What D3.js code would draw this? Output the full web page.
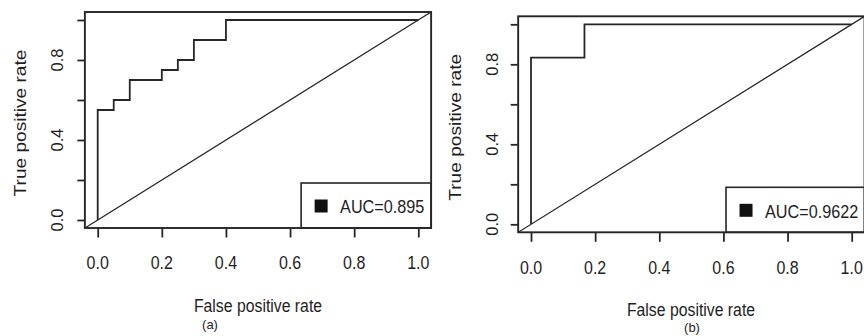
<!DOCTYPE html>
<html>
<head>
<meta charset="utf-8">
<script src="https://cdn.jsdelivr.net/npm/d3@7"></script>
<style>
  body { margin: 0; background: #fff; }
  svg { display: block; font-family: "Liberation Sans", Arial, sans-serif; }
  text { fill: #1e1e1e; }
</style>
</head>
<body>
<svg width="864" height="336"></svg>
<script>
// ROC corner points
const fprA = [0, 0, 0.05, 0.05, 0.1, 0.1, 0.2, 0.2, 0.25, 0.25, 0.3, 0.3, 0.4, 0.4, 1];
const tprA = [0, 0.55, 0.55, 0.6, 0.6, 0.7, 0.7, 0.75, 0.75, 0.8, 0.8, 0.9, 0.9, 1, 1];
const fprB = [0, 0, 0.1667, 0.1667, 1];
const tprB = [0, 0.833, 0.833, 1, 1];

const xTicks = [0, 0.2, 0.4, 0.6, 0.8, 1.0];
const yTicks = [0, 0.2, 0.4, 0.6, 0.8, 1.0];
const yTickLabels = [0, 0.4, 0.8];
const aucLabels = ['AUC=0.895', 'AUC=0.9622'];
const captions = ['(a)', '(b)'];

const panels = [
  { fpr: fprA, tpr: tprA, x0: 97.7, x1: 418.3, y0: 220, y1: 20,
    auc: aucLabels[0], cap: captions[0], yLabX: 20, yTickX: 57,
    xTickY: 262, xLab: [258, 306], capPos: [210, 324], legW: 130 },
  { fpr: fprB, tpr: tprB, x0: 531, x1: 851.7, y0: 224.3, y1: 24.3,
    auc: aucLabels[1], cap: captions[1], yLabX: 455, yTickX: 492,
    xTickY: 267, xLab: [691, 310], capPos: [692, 327], legW: 138.5 }
];

const svg = d3.select('svg');
const ink = '#262626';
const stretch = 1.18;   // the picture is slightly stretched vertically

function label(g, txt, x, y, size, rotate, s) {
  g.append('text')
    .attr('transform', 'translate(' + x + ',' + y + ') scale(1,' + (s || stretch) + ')' + (rotate ? ' rotate(-90)' : ''))
    .attr('text-anchor', 'middle')
    .attr('dy', '0.36em')
    .style('font-size', size + 'px')
    .text(txt);
}

panels.forEach(p => {
  const g = svg.append('g');
  const x = d3.scaleLinear().domain([0, 1]).range([p.x0, p.x1]);
  const y = d3.scaleLinear().domain([0, 1]).range([p.y0, p.y1]);

  const bx0 = x(-0.04), bx1 = x(1.04), by0 = y(-0.04), by1 = y(1.04);

  const clipId = 'clip' + p.cap.replace(/\W/g, '');
  g.append('clipPath').attr('id', clipId)
    .append('rect').attr('x', bx0).attr('y', by1).attr('width', bx1 - bx0).attr('height', by0 - by1);

  // chance line, spans whole plot region like abline
  g.append('line')
    .attr('clip-path', 'url(#' + clipId + ')')
    .attr('x1', x(-0.04)).attr('y1', y(-0.04))
    .attr('x2', x(1.04)).attr('y2', y(1.04))
    .attr('stroke', ink).attr('stroke-width', 1.3);

  // ROC curve
  const line = d3.line().x(d => x(d[0])).y(d => y(d[1]));
  g.append('path')
    .datum(p.fpr.map((f, i) => [f, p.tpr[i]]))
    .attr('d', line)
    .attr('fill', 'none')
    .attr('stroke', ink)
    .attr('stroke-width', 1.8);

  // legend box, bottom right
  const legH = 45;
  g.append('rect')
    .attr('x', bx1 - p.legW).attr('y', by0 - legH)
    .attr('width', p.legW).attr('height', legH)
    .attr('fill', '#fff').attr('stroke', ink).attr('stroke-width', 1.6);
  g.append('rect')
    .attr('x', bx1 - p.legW + 13.5).attr('y', by0 - legH + 16.5)
    .attr('width', 13).attr('height', 13)
    .attr('fill', '#111');
  g.append('text')
    .attr('transform', 'translate(' + (bx1 - p.legW + 39) + ',' + (by0 - legH + 23.5) + ') scale(1,1.15)')
    .attr('dy', '0.36em')
    .style('font-size', '16.2px')
    .text(p.auc);

  // box
  g.append('rect')
    .attr('x', bx0).attr('y', by1)
    .attr('width', bx1 - bx0).attr('height', by0 - by1)
    .attr('fill', 'none').attr('stroke', ink).attr('stroke-width', 1.9);

  // x axis
  const xa = g.append('g')
    .attr('transform', 'translate(0,' + by0 + ')')
    .call(d3.axisBottom(x).tickValues(xTicks).tickSize(9.5).tickFormat(''));
  xa.select('.domain').remove();
  xa.selectAll('line').attr('stroke', ink).attr('stroke-width', 1.8);
  xTicks.forEach(t => label(g, d3.format('.1f')(t), x(t), p.xTickY, 16, false));

  // y axis
  const ya = g.append('g')
    .attr('transform', 'translate(' + bx0 + ',0)')
    .call(d3.axisLeft(y).tickValues(yTicks).tickSize(7.5).tickFormat(''));
  ya.select('.domain').remove();
  ya.selectAll('line').attr('stroke', ink).attr('stroke-width', 1.8);
  yTickLabels.forEach(t => {
    g.append('text')
      .attr('transform', 'translate(' + p.yTickX + ',' + y(t) + ') rotate(-90)')
      .attr('text-anchor', 'middle')
      .attr('dy', '0.36em')
      .style('font-size', '16.5px')
      .text(d3.format('.1f')(t));
  });

  // axis titles
  label(g, 'False positive rate', p.xLab[0], p.xLab[1], 15.8, false, 1.12);
  label(g, 'True positive rate', p.yLabX, (by0 + by1) / 2 + 3, 16.2, true);
  label(g, p.cap, p.capPos[0], p.capPos[1], 13, false, 1.05);
});
</script>
</body>
</html>
